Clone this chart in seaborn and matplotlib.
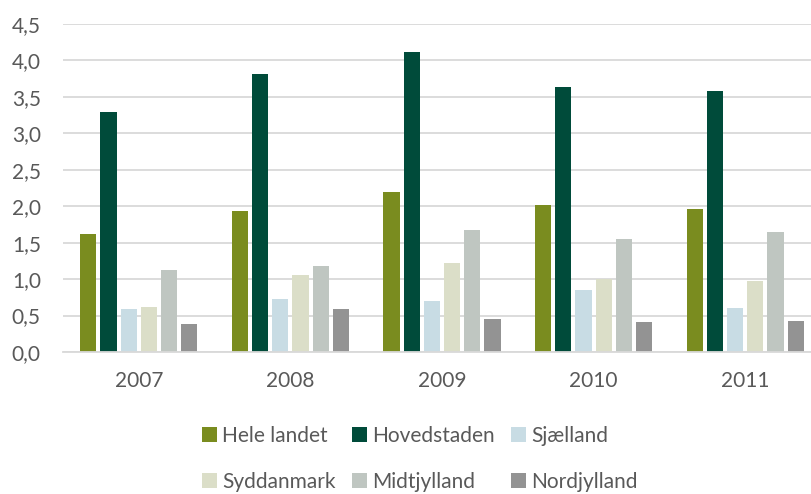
import pandas as pd
import seaborn as sns
from matplotlib import pyplot as plt
from matplotlib.patches import Patch
from matplotlib.ticker import FuncFormatter

years = ["2007", "2008", "2009", "2010", "2011"]
regions = ["Hele landet", "Hovedstaden", "Sjælland", "Syddanmark", "Midtjylland", "Nordjylland"]
colors = ["#7A8C1F", "#004B3A", "#C8DCE4", "#DBDEC8", "#BFC6C1", "#939393"]

hele_landet = [1.62, 1.94, 2.20, 2.01, 1.96]
hovedstaden = [3.29, 3.81, 4.11, 3.63, 3.58]
sjaelland = [0.59, 0.73, 0.70, 0.85, 0.60]
syddanmark = [0.62, 1.06, 1.22, 1.00, 0.97]
midtjylland = [1.13, 1.18, 1.67, 1.55, 1.65]
nordjylland = [0.38, 0.59, 0.45, 0.41, 0.43]

series = [hele_landet, hovedstaden, sjaelland, syddanmark, midtjylland, nordjylland]
rows = []
for region, values in zip(regions, series):
    for year, v in zip(years, values):
        rows.append({"year": year, "region": region, "value": v})
df = pd.DataFrame(rows)

sns.set_style("white")
plt.rcParams["font.family"] = ["Lato", "DejaVu Sans"]

fig = plt.figure(figsize=(8.11, 4.94), dpi=100)
ax = fig.add_axes([63 / 811, 142 / 494, 758 / 811, 328 / 494])

sns.barplot(data=df, x="year", y="value", hue="region", hue_order=regions,
            palette=colors, saturation=1, width=0.8, gap=0.2,
            linewidth=0, legend=False, ax=ax)

ax.set_xlim(-0.5, 4.5)
ax.set_ylim(0, 4.5)
ax.set_yticks([i * 0.5 for i in range(10)])
ax.yaxis.set_major_formatter(FuncFormatter(lambda v, p: f"{v:.1f}".replace(".", ",")))
ax.set_xlabel("")
ax.set_ylabel("")
ax.grid(axis="y", color="#D9D9D9", linewidth=1.3)
ax.set_axisbelow(True)
for side in ["top", "right", "left"]:
    ax.spines[side].set_visible(False)
ax.spines["bottom"].set_color("#D9D9D9")
ax.spines["bottom"].set_linewidth(1.3)
ax.tick_params(axis="both", length=0, labelsize=15, labelcolor="#595959")
ax.tick_params(axis="y", pad=16)
ax.tick_params(axis="x", pad=14)

# legend in rows: matplotlib fills columns first, so reorder
order = [0, 3, 1, 4, 2, 5]
handles = [Patch(facecolor=colors[i], edgecolor="none") for i in order]
labels = [regions[i] for i in order]
fig.legend(handles, labels, ncol=3, loc="center", bbox_to_anchor=(420 / 811, 1 - 459 / 494),
           frameon=False, fontsize=15, labelcolor="#595959",
           handlelength=0.7, handleheight=0.7, handletextpad=0.25,
           columnspacing=0.8, labelspacing=1.25)

fig.savefig("out.png", dpi=100)
